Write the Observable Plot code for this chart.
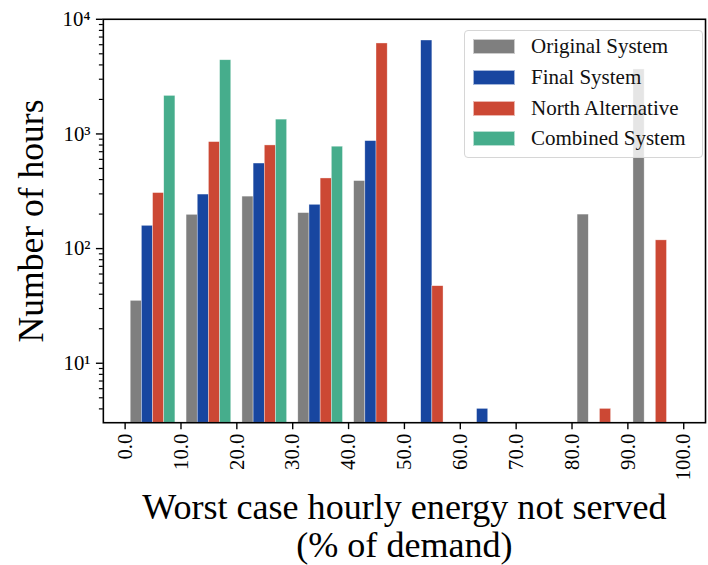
<!DOCTYPE html>
<html>
<head>
<meta charset="utf-8">
<script src="https://cdn.jsdelivr.net/npm/d3@7"></script>
<script src="https://cdn.jsdelivr.net/npm/@observablehq/plot@0.6"></script>
<style>
  html, body { margin: 0; padding: 0; background: #fff; }
  #wrap { position: relative; width: 708px; height: 565px; overflow: hidden; }
  #legend {
    position: absolute; left: 464px; top: 30px; width: 237px; height: 126px;
    border: 1px solid #d6d6d6; border-radius: 4px; background: rgba(255,255,255,0.8);
    font-family: "Liberation Serif", serif; font-size: 21px; color: #111;
    box-sizing: content-box;
  }
  .row { position: absolute; left: 8px; height: 15px; display: flex; align-items: center; }
  .sw { width: 42px; height: 15px; margin-right: 16px; box-sizing: border-box; border: 0.5px solid rgba(255,255,255,0.6); }
  .lab { white-space: nowrap; line-height: 15px; }
</style>
</head>
<body>
<div id="wrap"><div id="chart"></div><div id="legend"></div></div>
<script>
// ---- data ----
const binStarts = [0, 10, 20, 30, 40, 50, 60, 70, 80, 90];
const seriesNames = ["Original System", "Final System", "North Alternative", "Combined System"];
const seriesColors = ["#7f7f7f", "#1846a0", "#cc4834", "#46ad8c"];
const originalSystem = [35, 197, 284, 204, 388, 0, 0, 0, 198, 3650];
const finalSystem = [158, 296, 552, 241, 866, 6530, 4, 0, 0, 0];
const northAlternative = [305, 849, 794, 409, 6152, 47, 0, 0, 4, 118];
const combinedSystem = [2147, 4393, 1333, 774, 0, 0, 0, 0, 0, 0];
const xTickValues = [0, 10, 20, 30, 40, 50, 60, 70, 80, 90, 100];
const yTickValues = [10, 100, 1000, 10000];
const yTickLabels = ["10¹", "10²", "10³", "10⁴"];
const yMinorTicks = [4, 5, 6, 7, 8, 9, 20, 30, 40, 50, 60, 70, 80, 90,
  200, 300, 400, 500, 600, 700, 800, 900, 2000, 3000, 4000, 5000, 6000, 7000, 8000, 9000];
const yDomain = [3.03, 10000];
const xDomain = [-3.9, 103.9];
const binWidth = 10;

// ---- build table ----
const allSeries = [originalSystem, finalSystem, northAlternative, combinedSystem];
const rows = [];
allSeries.forEach((vals, k) => {
  vals.forEach((v, i) => {
    if (v > 0) rows.push({series: seriesNames[k], k, bin: binStarts[i], value: v});
  });
});
const nSeries = seriesNames.length;
const barW = binWidth * 0.8 / nSeries;
const x1 = d => d.bin + binWidth * 0.1 + barW * d.k;
const x2 = d => d.bin + binWidth * 0.1 + barW * (d.k + 1);

const font = "Liberation Serif, serif";
const chart = Plot.plot({
  width: 716,
  height: 565,
  marginLeft: 104,
  marginRight: 3,
  marginTop: 19,
  marginBottom: 138,
  style: {fontFamily: font, color: "black", background: "white", overflow: "visible"},
  x: {type: "linear", domain: xDomain},
  y: {type: "log", domain: yDomain},
  color: {domain: seriesNames, range: seriesColors},
  marks: [
    Plot.rect(rows, {x1, x2, y1: () => yDomain[0], y2: "value", fill: "series",
      stroke: "white", strokeWidth: 0.6, strokeOpacity: 0.6}),
    Plot.axisY(yMinorTicks, {tickSize: 4, strokeWidth: 1.2, stroke: "black",
      tickFormat: () => "", label: null}),
    Plot.axisY(yTickValues, {tickSize: 7, tickPadding: 6, strokeWidth: 1.4, stroke: "black",
      tickFormat: d => yTickLabels[yTickValues.indexOf(d)], fontSize: 21, label: null}),
    Plot.axisX(xTickValues, {tickSize: 7, tickPadding: 4, strokeWidth: 1.4, stroke: "black",
      tickRotate: -90, tickFormat: d => d.toFixed(1), fontSize: 21, label: null}),
    Plot.frame({stroke: "black", strokeWidth: 1.6}),
    Plot.text(["Number of hours"], {frameAnchor: "left", rotate: -90, dx: -72.5,
      fontSize: 36, textAnchor: "middle", lineAnchor: "middle", fill: "black"}),
    Plot.text(["Worst case hourly energy not served\n(% of demand)"], {frameAnchor: "bottom",
      dy: 70, lineAnchor: "top", lineHeight: 1.05, fontSize: 36.5, fill: "black"})
  ]
});
document.getElementById("chart").appendChild(chart);

// ---- legend ----
const legend = document.getElementById("legend");
const rowTops = [8, 39, 70, 100];
seriesNames.forEach((name, i) => {
  const r = document.createElement("div");
  r.className = "row";
  r.style.top = rowTops[i] + "px";
  const sw = document.createElement("div");
  sw.className = "sw";
  sw.style.background = seriesColors[i];
  const lab = document.createElement("span");
  lab.className = "lab";
  lab.textContent = name;
  r.appendChild(sw); r.appendChild(lab);
  legend.appendChild(r);
});
</script>
</body>
</html>
